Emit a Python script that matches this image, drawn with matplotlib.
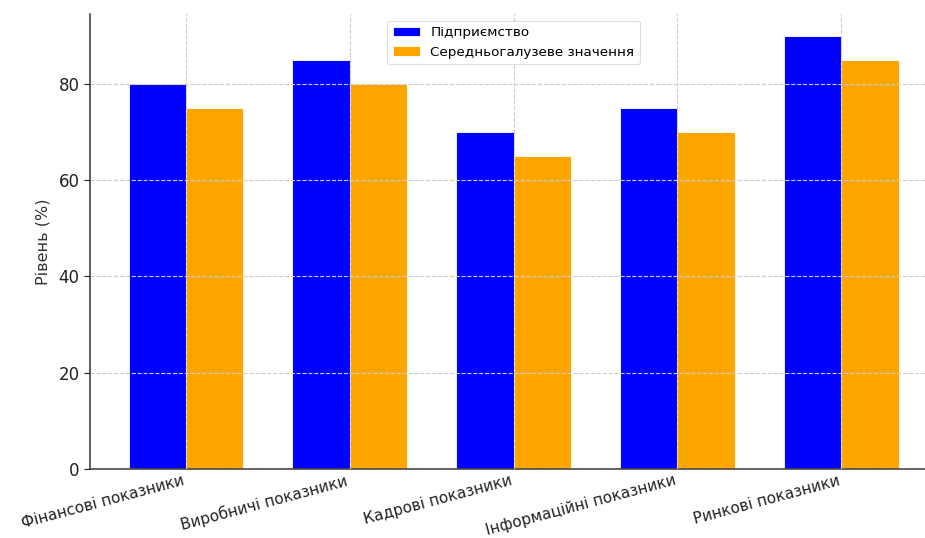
import matplotlib
matplotlib.use("Agg")
import matplotlib.pyplot as plt
import numpy as np

categories = ["Фінансові показники", "Виробничі показники", "Кадрові показники",
              "Інформаційні показники", "Ринкові показники"]
enterprise = [80, 85, 70, 75, 90]
industry_avg = [75, 80, 65, 70, 85]
series_names = ["Підприємство", "Середньогалузеве значення"]
y_ticks = [0, 20, 40, 60, 80]

plt.rcParams['font.family'] = ['DejaVu Sans']

fig = plt.figure(figsize=(9.25, 5.38), dpi=100)
ax = fig.add_axes([90 / 925, 1 - 469 / 538, 847 / 925, 455 / 538])

x = np.arange(len(categories))
w = 0.35
ax.bar(x - w / 2, enterprise, w, color="blue", edgecolor="white", linewidth=0.6,
       label=series_names[0], zorder=1)
ax.bar(x + w / 2, industry_avg, w, color="orange", edgecolor="white", linewidth=0.6,
       label=series_names[1], zorder=1)

ax.set_xticks(x)
ax.set_xticklabels(categories, rotation=15, ha="right", fontsize=11, color="#222222")
ax.set_yticks(y_ticks)
ax.tick_params(axis="y", labelsize=12, colors="#222222", length=4)
ax.tick_params(axis="x", colors="#222222", length=0, pad=3)
ax.set_ylabel("Рівень (%)", fontsize=11.5, color="#333333", labelpad=6)
ax.set_ylim(0, 94.5)

ax.grid(True, linestyle="--", color="#cccccc", linewidth=0.8, zorder=2)
ax.set_axisbelow(False)
for s in ["top", "right"]:
    ax.spines[s].set_visible(False)
for s in ["left", "bottom"]:
    ax.spines[s].set_color("#444444")
    ax.spines[s].set_linewidth(1.2)

leg = ax.legend(loc="upper center", fontsize=9.7, framealpha=1.0, edgecolor="#dddddd")
leg.get_frame().set_linewidth(0.8)

fig.savefig("out.png", dpi=100)
